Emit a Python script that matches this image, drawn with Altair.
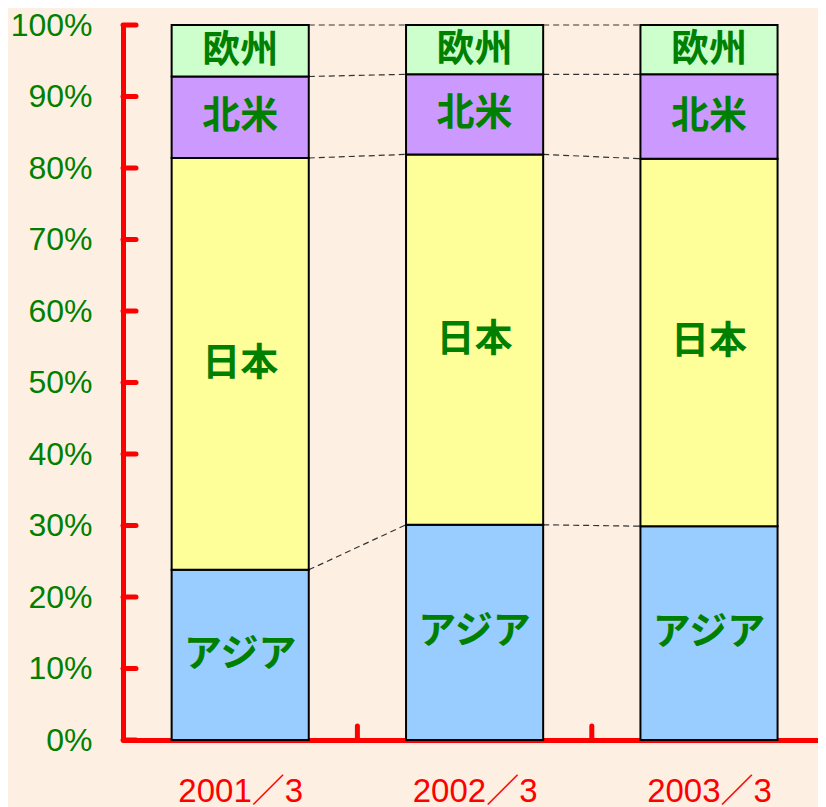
import json
import altair as alt
import pandas as pd

# ---- data ----
years = ["2001／3", "2002／3", "2003／3"]
regions = ["アジア", "日本", "北米", "欧州"]
asia = [23.8, 30.1, 29.9]
japan = [57.6, 51.8, 51.4]
north_america = [11.4, 11.2, 11.8]
europe = [7.2, 6.9, 6.9]
colors = ["#99CCFF", "#FFFF99", "#CC99FF", "#CCFFCC"]
y_ticks = [0, 10, 20, 30, 40, 50, 60, 70, 80, 90, 100]
x_boundaries = [1, 2, 3]

W, H = 695, 715
X_MAX = 2.965   # visible part of the category axis (last band runs past the window edge)
BAR = 0.585     # bar width as a fraction of a category band

series = [asia, japan, north_america, europe]
rows = []
for i, yr in enumerate(years):
    base = 0.0
    for r, s in zip(regions, series):
        rows.append(dict(year=yr, idx=i, region=r, start=base,
                         end=base + s[i], mid=base + s[i] / 2))
        base += s[i]
seg = pd.DataFrame(rows)

conn_rows = []
for i in range(len(years) - 1):
    for r in regions:
        a = seg[(seg.idx == i) & (seg.region == r)].end.iloc[0]
        b = seg[(seg.idx == i + 1) & (seg.region == r)].end.iloc[0]
        conn_rows.append(dict(idx=i, region=r, y=a, y2=b))
conn = pd.DataFrame(conn_rows)

yt = pd.DataFrame({"v": y_ticks})
xb = pd.DataFrame({"b": x_boundaries})

yscale = alt.Scale(domain=[0, 100], nice=False, zero=True)
qx = alt.Scale(domain=[0, X_MAX], nice=False, zero=False)

x_axis = alt.Axis(
    title=None, values=[i + 0.5 for i in range(len(years))],
    labelExpr=f"{json.dumps(years, ensure_ascii=False)}[floor(datum.value)]",
    labelAngle=0, ticks=False, tickSize=0, grid=False,
    domainColor="#FF0000", domainWidth=5,
    labelColor="#FF0000", labelFont="Liberation Sans, Noto Sans CJK JP",
    labelFontSize=33, labelPadding=35, labelFlush=False, labelOverlap=False,
)

y_axis = alt.Axis(
    title=None, values=y_ticks, labelExpr="datum.value + '%'",
    ticks=False, tickSize=0, grid=False,
    domainColor="#FF0000", domainWidth=5, domainCap="round",
    labelColor="#008000", labelFont="Liberation Sans",
    labelFontSize=32, labelPadding=31, labelFlush=False,
)

connectors = alt.Chart(conn).transform_calculate(
    x0=f"datum.idx + 0.5 + {BAR / 2}",
    x1=f"datum.idx + 1.5 - {BAR / 2}",
).mark_rule(color="#333333", strokeWidth=1.2, strokeDash=[6, 4]).encode(
    x=alt.X("x0:Q", scale=qx, axis=x_axis),
    x2="x1:Q",
    y=alt.Y("y:Q", scale=yscale, axis=y_axis),
    y2="y2:Q",
)

bars = alt.Chart(seg).transform_calculate(
    bx0=f"datum.idx + 0.5 - {BAR / 2}",
    bx1=f"datum.idx + 0.5 + {BAR / 2}",
).mark_bar(stroke="black", strokeWidth=2).encode(
    x=alt.X("bx0:Q", scale=qx, axis=x_axis),
    x2="bx1:Q",
    y=alt.Y("start:Q", scale=yscale, axis=y_axis),
    y2="end:Q",
    color=alt.Color("region:N", scale=alt.Scale(domain=regions, range=colors), legend=None),
)

labels = alt.Chart(seg).transform_calculate(
    cx="datum.idx + 0.5"
).mark_text(
    font="Noto Sans CJK JP", fontWeight="bold", fontSize=38, color="#008000"
).encode(
    x=alt.X("cx:Q", scale=qx, axis=x_axis),
    y=alt.Y("mid:Q", scale=yscale, axis=y_axis),
    text="region:N",
)

y_tick_marks = alt.Chart(yt).mark_rule(color="#FF0000", strokeWidth=5, strokeCap="round").encode(
    y=alt.Y("v:Q", scale=yscale, axis=y_axis),
    x=alt.value(0),
    x2=alt.value(13),
)

x_tick_marks = alt.Chart(xb).transform_filter(f"datum.b <= {X_MAX}").mark_rule(
    color="#FF0000", strokeWidth=5, strokeCap="round"
).encode(
    x=alt.X("b:Q", scale=qx, axis=x_axis),
    y=alt.value(H),
    y2=alt.value(H - 14),
)

chart = alt.layer(
    connectors, bars, labels, y_tick_marks, x_tick_marks
).properties(
    width=W, height=H,
    autosize=alt.AutoSizeParams(type="none"),
    padding={"left": 115, "top": 17, "right": 0, "bottom": 75},
    background="#FDF0E2",
).configure_view(stroke=None)

chart.save("out.html", embed_options={"renderer": "svg", "actions": False})
